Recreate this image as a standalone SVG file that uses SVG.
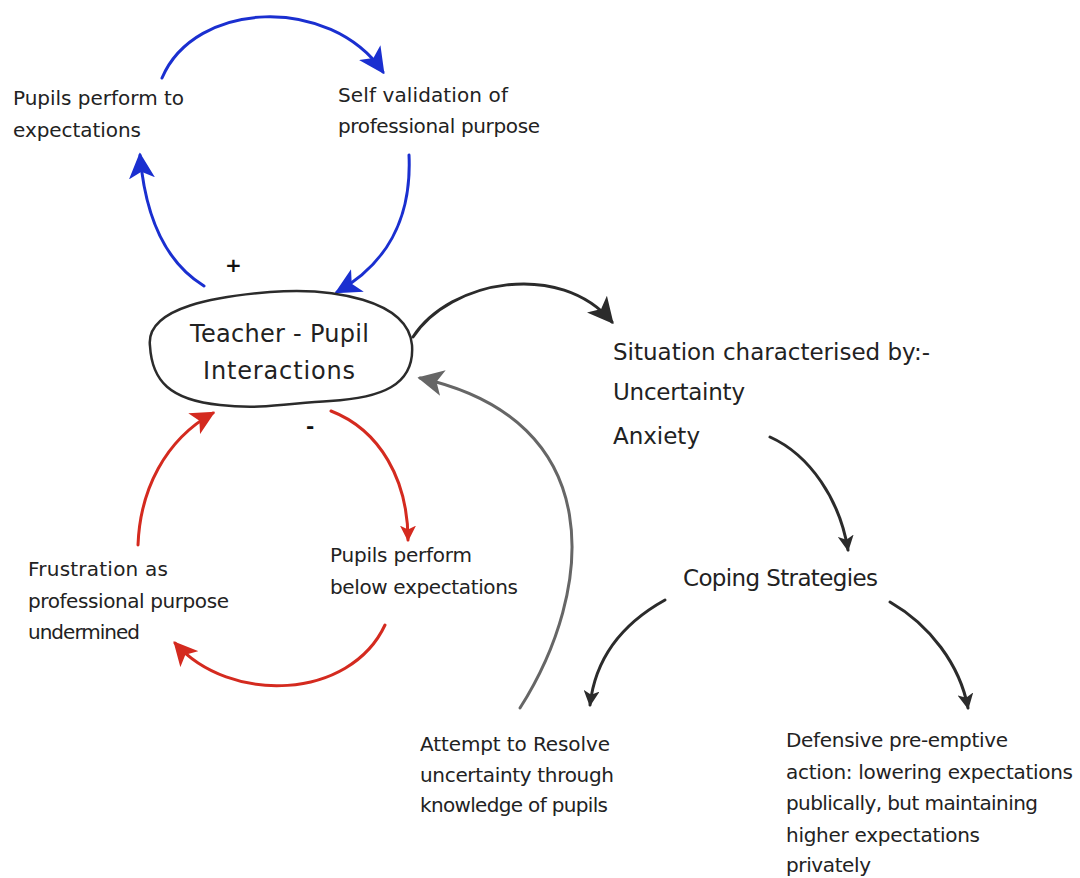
<svg xmlns="http://www.w3.org/2000/svg" width="1080" height="878" viewBox="0 0 1080 878">
  <style>
    .t { font-family: "Comic Sans MS", "DejaVu Sans", sans-serif; font-size: 20px; fill: #222; }
    .big { font-size: 23px; }
    .mid { font-size: 24px; }
    .sign { font-family: "DejaVu Sans", sans-serif; font-size: 20px; font-weight: bold; fill: #111; }
    .c { fill: none; stroke-width: 3; stroke-linecap: round; }
    .blue { stroke: #1a2fd0; }
    .red { stroke: #d42a1f; }
    .dark { stroke: #2b2b2b; }
    .grey { stroke: #666; }
  </style>
  <defs>
    <marker id="hb" viewBox="0 0 10 10" refX="9" refY="5" markerWidth="26" markerHeight="26" markerUnits="userSpaceOnUse" orient="auto">
      <path d="M0,0 L10,5 L0,10 L2.5,5 Z" fill="#1a2fd0"/>
    </marker>
    <marker id="hr" viewBox="0 0 10 10" refX="9" refY="5" markerWidth="24" markerHeight="24" markerUnits="userSpaceOnUse" orient="auto">
      <path d="M0,0 L10,5 L0,10 L2.5,5 Z" fill="#d42a1f"/>
    </marker>
    <marker id="hrs" viewBox="0 0 10 10" refX="9" refY="5" markerWidth="16" markerHeight="16" markerUnits="userSpaceOnUse" orient="auto">
      <path d="M0,0 L10,5 L0,10 L2.5,5 Z" fill="#d42a1f"/>
    </marker>
    <marker id="hk" viewBox="0 0 10 10" refX="9" refY="5" markerWidth="26" markerHeight="26" markerUnits="userSpaceOnUse" orient="auto">
      <path d="M0,0 L10,5 L0,10 L2.5,5 Z" fill="#2b2b2b"/>
    </marker>
    <marker id="hks" viewBox="0 0 10 10" refX="9" refY="5" markerWidth="16" markerHeight="16" markerUnits="userSpaceOnUse" orient="auto">
      <path d="M0,0 L10,5 L0,10 L2.5,5 Z" fill="#2b2b2b"/>
    </marker>
    <marker id="hg" viewBox="0 0 10 10" refX="9" refY="5" markerWidth="26" markerHeight="26" markerUnits="userSpaceOnUse" orient="auto">
      <path d="M0,0 L10,5 L0,10 L2.5,5 Z" fill="#666"/>
    </marker>
  </defs>
  <rect width="1080" height="878" fill="#fff"/>

  <!-- connectors -->
  <g id="connectors">
    <path class="c blue" d="M162,78 C 195,0 330,-5 383,72" marker-end="url(#hb)"/>
    <path class="c blue" d="M409,155 C 412,220 385,265 337,292" marker-end="url(#hb)"/>
    <path class="c blue" d="M204,286 C 165,262 145,215 140,155" marker-end="url(#hb)"/>
    <path class="c dark" d="M413,337 C 450,280 560,260 612,322" marker-end="url(#hk)"/>
    <path class="c grey" d="M520,708 C 595,590 610,420 420,378" marker-end="url(#hg)"/>
    <path class="c red" d="M331,411 C 380,430 408,480 408,540" marker-end="url(#hrs)"/>
    <path class="c red" d="M385,625 C 350,700 230,705 175,643" marker-end="url(#hr)"/>
    <path class="c red" d="M138,545 C 140,490 165,440 213,413" marker-end="url(#hr)"/>
    <path class="c dark" d="M770,437 C 810,455 840,500 848,550" marker-end="url(#hks)"/>
    <path class="c dark" d="M665,600 C 620,625 595,660 590,705" marker-end="url(#hks)"/>
    <path class="c dark" d="M890,602 C 930,625 960,665 968,708" marker-end="url(#hks)"/>
    <text class="sign" x="225" y="272">+</text>
    <text class="sign" x="306" y="433" font-size="24">-</text>
  </g>

  <!-- nodes -->
  <g id="interactions">
    <path d="M150,346 C 145,306 222,296 270,292 C 332,287 408,300 412,345 C 415,386 380,398 330,401 C 290,403 262,410 220,405 C 170,400 152,381 150,346 Z" fill="none" stroke="#2b2b2b" stroke-width="2.5"/>
    <text class="t mid" x="190" y="342" textLength="179">Teacher - Pupil</text>
    <text class="t mid" x="203" y="379" textLength="152">Interactions</text>
  </g>
  <g id="perform-to">
    <text class="t" x="13" y="105" textLength="171">Pupils perform to</text>
    <text class="t" x="13" y="137" textLength="128">expectations</text>
  </g>
  <g id="self-validation">
    <text class="t" x="338" y="102" textLength="170">Self validation of</text>
    <text class="t" x="338" y="133" textLength="202">professional purpose</text>
  </g>
  <g id="frustration">
    <text class="t" x="28" y="576" textLength="140">Frustration as</text>
    <text class="t" x="28" y="608" textLength="201">professional purpose</text>
    <text class="t" x="28" y="639" textLength="112">undermined</text>
  </g>
  <g id="perform-below">
    <text class="t" x="330" y="562" textLength="142">Pupils perform</text>
    <text class="t" x="330" y="594" textLength="188">below expectations</text>
  </g>
  <g id="situation">
    <text class="t big" x="613" y="360" textLength="317">Situation characterised by:-</text>
    <text class="t big" x="613" y="400" textLength="132">Uncertainty</text>
    <text class="t big" x="613" y="444" textLength="87">Anxiety</text>
  </g>
  <g id="coping">
    <text class="t big" x="683" y="586" textLength="195">Coping Strategies</text>
  </g>
  <g id="resolve">
    <text class="t" x="420" y="751" textLength="190">Attempt to Resolve</text>
    <text class="t" x="420" y="782" textLength="194">uncertainty through</text>
    <text class="t" x="420" y="812" textLength="188">knowledge of pupils</text>
  </g>
  <g id="defensive">
    <text class="t" x="786" y="747" textLength="222">Defensive pre-emptive</text>
    <text class="t" x="786" y="779" textLength="287">action: lowering expectations</text>
    <text class="t" x="786" y="810" textLength="252">publically, but maintaining</text>
    <text class="t" x="786" y="842" textLength="194">higher expectations</text>
    <text class="t" x="786" y="872" textLength="85">privately</text>
  </g>
</svg>
